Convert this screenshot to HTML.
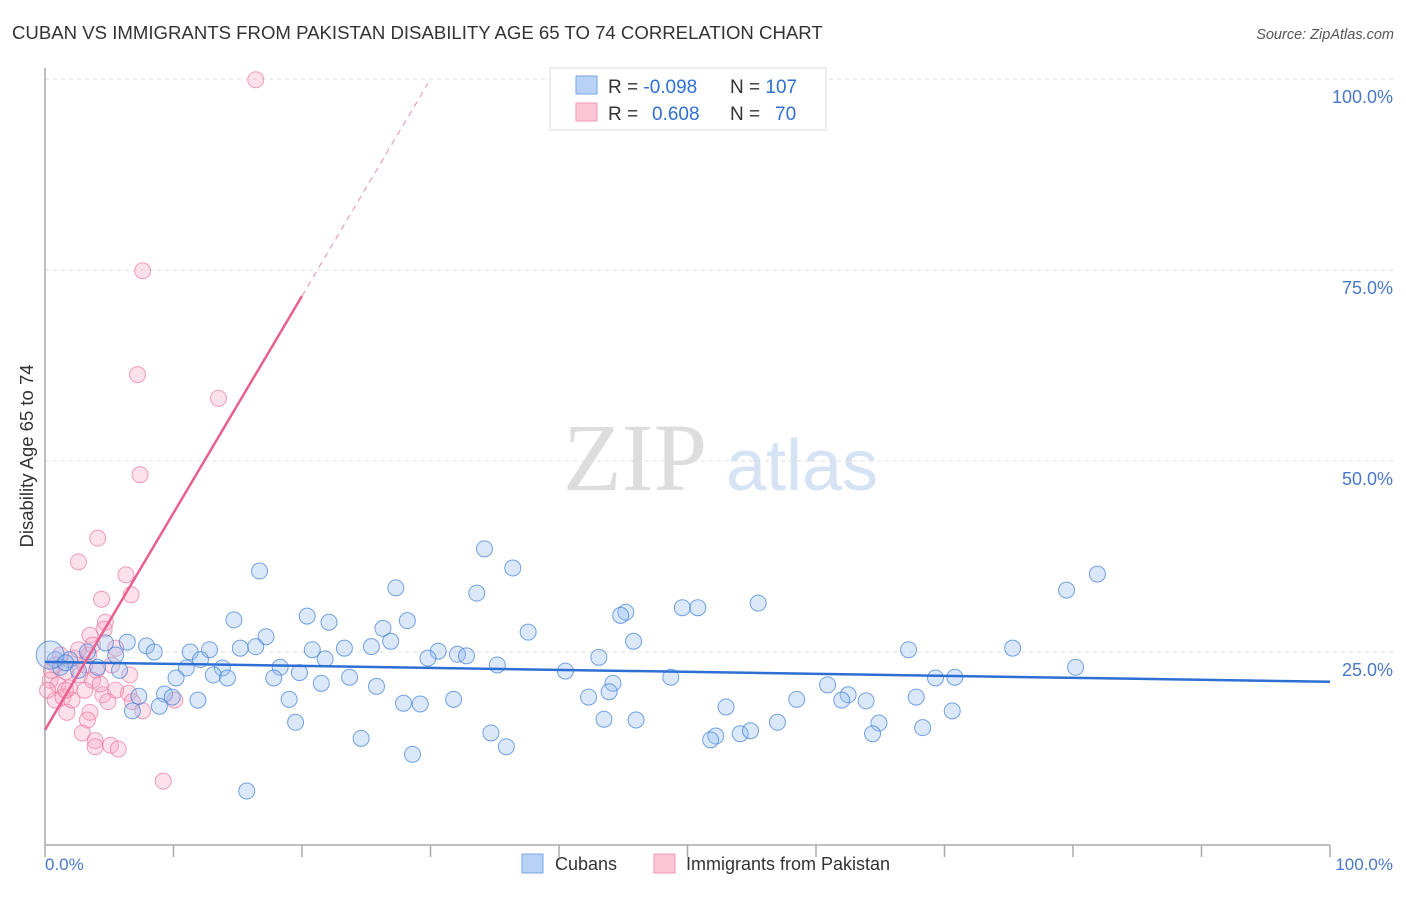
<!DOCTYPE html>
<html><head><meta charset="utf-8"><style>
body{margin:0;background:#fff;font-family:"Liberation Sans",sans-serif}
svg text{font-family:"Liberation Sans",sans-serif}
</style></head><body>
<svg id="c" width="1406" height="892" viewBox="0 0 1406 892" xmlns="http://www.w3.org/2000/svg">
<text x="12" y="39" font-size="18.6" fill="#333">CUBAN VS IMMIGRANTS FROM PAKISTAN DISABILITY AGE 65 TO 74 CORRELATION CHART</text>
<text x="1394" y="39" font-size="14.5" fill="#555" text-anchor="end" font-style="italic">Source: ZipAtlas.com</text>
<g>
<text x="635" y="490" font-size="96" fill="#ddd" text-anchor="middle" font-family="Liberation Serif" style="font-family:'Liberation Serif',serif">ZIP</text>
<text x="802" y="490" font-size="72" fill="#d6e3f5" text-anchor="middle">atlas</text>
</g>
<g id="grid"></g>
<line x1="45" y1="68" x2="45" y2="845" stroke="#aaa" stroke-width="1.5"/>
<line x1="45" y1="845" x2="1330" y2="845" stroke="#aaa" stroke-width="1.5"/>
<g id="ticks"></g>
<text transform="translate(33,456) rotate(-90)" font-size="18.5" fill="#333" text-anchor="middle">Disability Age 65 to 74</text>
<text x="45" y="870" font-size="17" fill="#4a78c8">0.0%</text>
<text x="1393" y="870" font-size="17" fill="#4a78c8" text-anchor="end">100.0%</text>
<g id="pts"></g>
<g id="lines"></g>
<g>
<rect x="550" y="68" width="276" height="62" fill="#fff" stroke="#ddd"/>
<rect x="576" y="76" width="21" height="18" fill="#b8d2f5" stroke="#7aa6e6"/>
<rect x="576" y="103" width="21" height="18" fill="#fcc6d6" stroke="#ee99b4"/>
<text x="608" y="93" font-size="19" fill="#333">R = <tspan fill="#2e6fd3">-0.098</tspan><tspan x="730">N = </tspan><tspan fill="#2e6fd3">107</tspan></text>
<text x="608" y="120" font-size="19" fill="#333">R = <tspan x="652" fill="#2e6fd3">0.608</tspan><tspan x="730">N = </tspan><tspan x="775" fill="#2e6fd3">70</tspan></text>
</g>
<g>
<rect x="522" y="854" width="21" height="19" fill="#b8d2f5" stroke="#7aa6e6"/>
<text x="555" y="870" font-size="18" fill="#333">Cubans</text>
<rect x="654" y="854" width="21" height="19" fill="#fcc6d6" stroke="#ee99b4"/>
<text x="686" y="870" font-size="18" fill="#333">Immigrants from Pakistan</text>
</g>
</svg>
<script>
const yTicks=[25,50,75,100];
const yTickLabels=["25.0%","50.0%","75.0%","100.0%"];
const xTicks=[0,10,20,30,40,50,60,70,80,90,100];
const cubanX=[16.7,34.2,36.4,27.3,33.6,81.9,79.5,55.5,49.6,50.8,45.2,44.8,20.4,14.7,28.2,22.1,37.6,26.3,17.2,45.8,26.9,6.4,7.9,8.5,15.2,16.4,12.8,20.8,23.3,25.4,30.6,32.1,32.8,29.8,43.1,67.2,75.3,11.3,12.1,21.8,5.5,4.7,3.3,1.9,0.8,1.2,0.4,4.1,5.8,11.0,18.3,35.2,80.2,13.8,13.1,14.2,10.2,17.8,19.8,23.7,21.5,25.8,40.5,48.7,44.2,43.9,42.3,60.9,69.3,70.8,67.8,62.5,62.0,63.9,58.5,19.0,11.9,9.3,9.9,7.3,8.9,6.8,27.9,29.2,31.8,53.0,70.6,19.5,43.5,46.0,57.0,64.9,68.3,34.7,24.6,52.2,51.8,54.1,54.9,64.4,35.9,28.6,15.7,1.6,2.6];
const cubanY=[35.6,38.5,36.0,33.4,32.7,35.2,33.1,31.4,30.8,30.8,30.2,29.8,29.7,29.2,29.1,28.9,27.6,28.1,27.0,26.4,26.4,26.3,25.8,25.0,25.5,25.7,25.3,25.3,25.5,25.7,25.1,24.7,24.5,24.2,24.3,25.3,25.5,25.0,24.0,24.1,24.6,26.2,25.0,24.0,24.0,23.0,24.6,23.0,22.6,22.9,23.0,23.3,23.0,22.9,22.0,21.6,21.6,21.6,22.3,21.7,20.9,20.5,22.5,21.7,20.9,19.8,19.1,20.7,21.6,21.7,19.1,19.4,18.7,18.6,18.8,18.8,18.7,19.5,19.1,19.2,17.9,17.3,18.3,18.2,18.8,17.8,17.3,15.8,16.2,16.1,15.8,15.7,15.1,14.4,13.7,14.0,13.5,14.3,14.7,14.3,12.6,11.6,6.8,23.6,22.6];
const pakX=[16.4,7.6,7.2,13.5,7.4,4.1,2.6,6.3,6.7,4.4,4.7,4.6,3.5,3.7,5.5,3.4,2.3,1.2,0.8,1.6,2.7,4.0,6.6,0.4,1.0,1.9,3.1,4.5,3.7,5.5,6.5,6.8,10.1,7.6,4.9,3.5,1.7,0.8,1.4,3.3,2.9,3.9,3.9,5.1,5.7,9.2,2.1,4.3,2.6,1.6,0.2,0.5,3.1,5.2];
const pakY=[99.9,74.9,61.3,58.2,48.2,39.9,36.8,35.1,32.5,31.9,28.9,28.0,27.2,25.9,25.5,24.6,24.2,24.6,23.3,22.4,22.0,22.6,22.0,21.3,20.7,20.3,20.0,19.4,21.3,20.0,19.6,18.5,18.7,17.3,18.5,17.1,17.1,18.7,19.1,16.1,14.4,13.4,12.6,12.8,12.3,8.1,18.7,20.8,25.3,20.0,20.0,22.6,23.3,23.3];
const cubanTrend=[23.7,21.1]; // y at x=0, x=100
const pakTrend=[14.8,2.84]; // intercept, slope
const X=v=>45+v*12.85, Y=v=>843-v*7.64;
const NS="http://www.w3.org/2000/svg";
function mk(t,a,p){const e=document.createElementNS(NS,t);for(const k in a)e.setAttribute(k,a[k]);p.appendChild(e);return e;}
const grid=document.getElementById('grid');
yTicks.forEach((t,i)=>{
 const l=mk('line',{x1:45,x2:1394,y1:Y(t),y2:Y(t),stroke:'#ddd','stroke-dasharray':'4,4'},grid);
 
 
 const tx=mk('text',{x:1393,y:Y(t)+24,'font-size':18,fill:'#4a78c8','text-anchor':'end'},grid);
 tx.textContent=yTickLabels[i];
 
 
});
const tk=document.getElementById('ticks');
xTicks.forEach(t=>{
 const l=mk('line',{x1:X(t),x2:X(t),y1:845,y2:857,stroke:'#aaa','stroke-width':1.5},tk);
 
 
});
const pts=document.getElementById('pts');
pakX.forEach((x,i)=>{
 const c=mk('circle',{cx:X(x),cy:Y(pakY[i]),r:8,fill:'rgba(248,170,195,0.35)',stroke:'rgba(232,120,155,0.7)','stroke-width':1},pts);
 
 
});
cubanX.forEach((x,i)=>{
 const c=mk('circle',{cx:X(x),cy:Y(cubanY[i]),r:i==46?14:8,fill:'rgba(150,190,240,0.35)',stroke:'rgba(60,125,215,0.7)','stroke-width':1},pts);
 
 
});
const ln=document.getElementById('lines');
const b=mk('line',{x1:X(0),y1:Y(cubanTrend[0]),x2:X(100),y2:Y(cubanTrend[1]),stroke:'#2e6fd3','stroke-width':2.5},ln);


const p1=mk('line',{x1:X(0),y1:Y(pakTrend[0]),x2:X(20),y2:Y(pakTrend[0]+pakTrend[1]*20),stroke:'#e8608e','stroke-width':2.5},ln);


const p2=mk('line',{x1:X(20),y1:Y(pakTrend[0]+pakTrend[1]*20),x2:X(29.8),y2:Y(pakTrend[0]+pakTrend[1]*29.8),stroke:'#eaa0b8','stroke-width':1.2,'stroke-dasharray':'6,5'},ln);


</script>
</body></html>
